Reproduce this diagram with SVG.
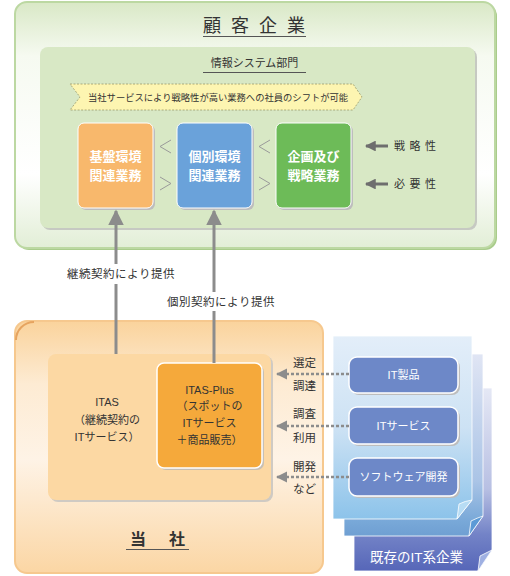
<svg xmlns="http://www.w3.org/2000/svg" width="510" height="576" viewBox="0 0 510 576">
<defs>
<linearGradient id="gOuter" x1="0" y1="0" x2="0" y2="1">
<stop offset="0" stop-color="#d9e8c6"/>
<stop offset="0.22" stop-color="#f6faf1"/>
<stop offset="0.7" stop-color="#ffffff"/>
<stop offset="1" stop-color="#e2eed6"/>
</linearGradient>
<linearGradient id="gOrange" x1="0" y1="0" x2="0" y2="1">
<stop offset="0" stop-color="#fad39c"/>
<stop offset="0.25" stop-color="#fdebd3"/>
<stop offset="0.55" stop-color="#fef3e6"/>
<stop offset="1" stop-color="#fbd6a4"/>
</linearGradient>
<linearGradient id="gP1" x1="0" y1="0" x2="0" y2="1">
<stop offset="0" stop-color="#e3eef9"/>
<stop offset="0.5" stop-color="#cde2f4"/>
<stop offset="1" stop-color="#8cc3ea"/>
</linearGradient>
<linearGradient id="gP2" x1="0" y1="0" x2="0" y2="1">
<stop offset="0" stop-color="#e0e5f4"/>
<stop offset="0.7" stop-color="#aac4e6"/>
<stop offset="0.92" stop-color="#78a8d8"/>
<stop offset="1" stop-color="#6f9fd2"/>
</linearGradient>
<linearGradient id="gP3" x1="0" y1="0" x2="0" y2="1">
<stop offset="0" stop-color="#e5e8f5"/>
<stop offset="0.55" stop-color="#b8c0e3"/>
<stop offset="0.8" stop-color="#7383c7"/>
<stop offset="1" stop-color="#5666b8"/>
</linearGradient>
<marker id="mUp" viewBox="0 0 10 10" refX="9" refY="5" markerWidth="5.2" markerHeight="5.2" orient="auto" markerUnits="strokeWidth">
<path d="M0,0 L10,5 L0,10 z" fill="#8c8c8c"/>
</marker>
<marker id="mGrey" viewBox="0 0 10 10" refX="9" refY="5" markerWidth="4.6" markerHeight="4.6" orient="auto" markerUnits="strokeWidth">
<path d="M0,0 L10,5 L0,10 z" fill="#8c8c8c"/>
</marker>
<marker id="mDark" viewBox="0 0 10 10" refX="9" refY="5" markerWidth="3.6" markerHeight="3.6" orient="auto" markerUnits="strokeWidth">
<path d="M0,0 L10,5 L0,10 z" fill="#6e6e6e"/>
</marker>
</defs>
<style>
text{font-family:"Liberation Sans","Noto Sans CJK JP",sans-serif;fill:#333333}
.w{fill:#ffffff}
.bx{font-size:13px;font-weight:bold;fill:#ffffff}
.lb{font-size:11.5px}
.sm{font-size:11px}
.btn{fill:#6d88c8;stroke:#ffffff;stroke-width:1.5}
.sh{fill:#bdbdbd}
.chev{fill:none;stroke:#9a9a9a;stroke-width:1}
.ul{stroke:#555555;stroke-width:1}
</style>

<g id="customer">
<rect x="17" y="4" width="480" height="246" rx="12" fill="#a9cc8b"/>
<rect x="15" y="2" width="480" height="246" rx="12" fill="url(#gOuter)" stroke="#bcd8a2" stroke-width="2"/>
<text x="203" y="32" font-size="18" letter-spacing="10" fill="#333">顧客企業</text>
<line class="ul" x1="203" y1="36.5" x2="306" y2="36.5"/>
</g>

<g id="is-dept">
<rect x="42" y="49" width="435" height="181" rx="8" fill="#c6c9c2"/>
<rect x="40" y="47" width="435" height="181" rx="8" fill="#d8e8c5"/>
<text x="254.5" y="67" font-size="11" text-anchor="middle">情報システム部門</text>
<line class="ul" x1="203" y1="72.5" x2="306" y2="72.5"/>
</g>

<g id="banner">
<polygon points="70,84 353,84 362,97 353,110 70,110 80,97" fill="#fdf5b1" stroke="#9b9a6a" stroke-width="0.8" stroke-dasharray="2,1.5"/>
<text x="88" y="100.5" font-size="9.3">当社サービスにより戦略性が高い業務への社員のシフトが可能</text>
</g>

<g id="kiban">
<rect x="80" y="125" width="75" height="85" rx="6" class="sh"/>
<rect x="78" y="123" width="75" height="85" rx="6" fill="#f8b86c" stroke="#ffffff" stroke-width="1"/>
<text class="bx" x="115.5" y="160.5" text-anchor="middle">基盤環境</text>
<text class="bx" x="115.5" y="180" text-anchor="middle">関連業務</text>
</g>

<g id="kobetsu">
<rect x="179" y="125" width="75" height="85" rx="6" class="sh"/>
<rect x="177" y="123" width="75" height="85" rx="6" fill="#6aa2da" stroke="#ffffff" stroke-width="1"/>
<text class="bx" x="214.5" y="160.5" text-anchor="middle">個別環境</text>
<text class="bx" x="214.5" y="180" text-anchor="middle">関連業務</text>
</g>

<g id="kikaku">
<rect x="278" y="125" width="75" height="85" rx="6" class="sh"/>
<rect x="276" y="123" width="75" height="85" rx="6" fill="#6dbb58" stroke="#ffffff" stroke-width="1"/>
<text class="bx" x="313.5" y="160.5" text-anchor="middle">企画及び</text>
<text class="bx" x="313.5" y="180" text-anchor="middle">戦略業務</text>
</g>

<g id="chevrons">
<polyline class="chev" points="171,140 160,146.5 171,153"/>
<polyline class="chev" points="160,177 171,183.5 160,190"/>
<polyline class="chev" points="270,140 259,146.5 270,153"/>
<polyline class="chev" points="259,177 270,183.5 259,190"/>
</g>

<g id="axis">
<text class="sm" x="394" y="150" font-size="10" letter-spacing="4.5">戦略性</text>
<text class="sm" x="394" y="188" font-size="10" letter-spacing="4.5">必要性</text>
</g>

<g id="tosha">
<rect x="15" y="321" width="308" height="252" rx="12" fill="url(#gOrange)" stroke="#f6c88e" stroke-width="2"/>
<path d="M16,340 A18,18 0 0 1 34,322" fill="none" stroke="#e6a460" stroke-width="2"/>
<text x="130" y="545" font-size="16" letter-spacing="23" font-weight="bold">当社</text>
<line class="ul" x1="126" y1="549.5" x2="189" y2="549.5"/>
</g>

<g id="itas">
<rect x="50" y="356" width="223" height="146" rx="8" fill="#cfcac3"/>
<rect x="48" y="354" width="223" height="146" rx="8" fill="#fcd8a3"/>
<text class="sm" x="107" y="406" text-anchor="middle">ITAS</text>
<text class="sm" x="107" y="424" text-anchor="middle">（継続契約の</text>
<text class="sm" x="107" y="441" text-anchor="middle">ITサービス）</text>
</g>

<g id="itas-plus">
<rect x="159" y="365" width="105" height="105" rx="7" fill="#c7bfb4"/>
<rect x="157" y="363" width="105" height="105" rx="7" fill="#f5a93b" stroke="#ffffff" stroke-width="1.5"/>
<text class="sm" x="209.5" y="394" text-anchor="middle">ITAS-Plus</text>
<text class="sm" x="209.5" y="410" text-anchor="middle">（スポットの</text>
<text class="sm" x="209.5" y="427" text-anchor="middle">ITサービス</text>
<text class="sm" x="209.5" y="444" text-anchor="middle">＋商品販売）</text>
</g>

<g id="it-companies">
<path d="M354,388 H492 V550 L478,571 H354 Z" fill="url(#gP3)" stroke="#ffffff" stroke-width="0.8"/>
<path d="M492,550 L478,571 L480,556 Q486,553 492,550 Z" fill="#9fb0e2" stroke="#ffffff" stroke-width="0.8"/>
<path d="M344,354 H483 V516 L469,536 H344 Z" fill="url(#gP2)" stroke="#ffffff" stroke-width="0.8"/>
<path d="M483,516 L469,536 L471,521 Q477,518 483,516 Z" fill="#5c9ad6" stroke="#ffffff" stroke-width="0.8"/>
<path d="M333,336 H472 V500 L457,519 H333 Z" fill="url(#gP1)" stroke="#ffffff" stroke-width="0.8"/>
<path d="M472,500 L457,519 L459,504 Q465,501 472,500 Z" fill="#b7dcf4" stroke="#ffffff" stroke-width="0.8"/>
<text x="370" y="562" font-size="13.5" class="w">既存のIT系企業</text>
</g>

<g id="it-product">
<rect x="351" y="359" width="109" height="36" rx="8" class="sh"/>
<rect x="349" y="357" width="109" height="36" rx="8" class="btn"/>
<text class="sm w" x="403.5" y="379" text-anchor="middle">IT製品</text>
</g>
<g id="it-service">
<rect x="351" y="409" width="109" height="37" rx="8" class="sh"/>
<rect x="349" y="407" width="109" height="37" rx="8" class="btn"/>
<text class="sm w" x="403.5" y="429.5" text-anchor="middle">ITサービス</text>
</g>
<g id="software-dev">
<rect x="351" y="460" width="109" height="38" rx="8" class="sh"/>
<rect x="349" y="458" width="109" height="38" rx="8" class="btn"/>
<text class="sm w" x="403.5" y="481" text-anchor="middle">ソフトウェア開発</text>
</g>

<g id="connectors">
<line x1="116" y1="354" x2="116" y2="284" stroke="#8c8c8c" stroke-width="3"/>
<line x1="116" y1="264" x2="116" y2="211" stroke="#8c8c8c" stroke-width="3" marker-end="url(#mUp)"/>
<line x1="214" y1="363" x2="214" y2="311" stroke="#8c8c8c" stroke-width="3"/>
<line x1="214" y1="292" x2="214" y2="211" stroke="#8c8c8c" stroke-width="3" marker-end="url(#mUp)"/>
<text class="lb" x="121" y="277.5" text-anchor="middle" letter-spacing="0.5">継続契約により提供</text>
<text class="lb" x="221" y="306" text-anchor="middle" letter-spacing="0.5">個別契約により提供</text>
<line x1="388" y1="146" x2="366" y2="146" stroke="#6e6e6e" stroke-width="3" marker-end="url(#mDark)"/>
<line x1="388" y1="184" x2="366" y2="184" stroke="#6e6e6e" stroke-width="3" marker-end="url(#mDark)"/>
<line x1="349" y1="374" x2="277" y2="374" stroke="#8c8c8c" stroke-width="2.5" stroke-dasharray="3,2" marker-end="url(#mGrey)"/>
<line x1="349" y1="426" x2="277" y2="426" stroke="#8c8c8c" stroke-width="2.5" stroke-dasharray="3,2" marker-end="url(#mGrey)"/>
<line x1="349" y1="477" x2="277" y2="477" stroke="#8c8c8c" stroke-width="2.5" stroke-dasharray="3,2" marker-end="url(#mGrey)"/>
<text class="lb" x="293" y="367">選定</text>
<text class="lb" x="293" y="390">調達</text>
<text class="lb" x="293" y="418">調査</text>
<text class="lb" x="293" y="442">利用</text>
<text class="lb" x="293" y="471">開発</text>
<text class="lb" x="293" y="493">など</text>
</g>
</svg>
